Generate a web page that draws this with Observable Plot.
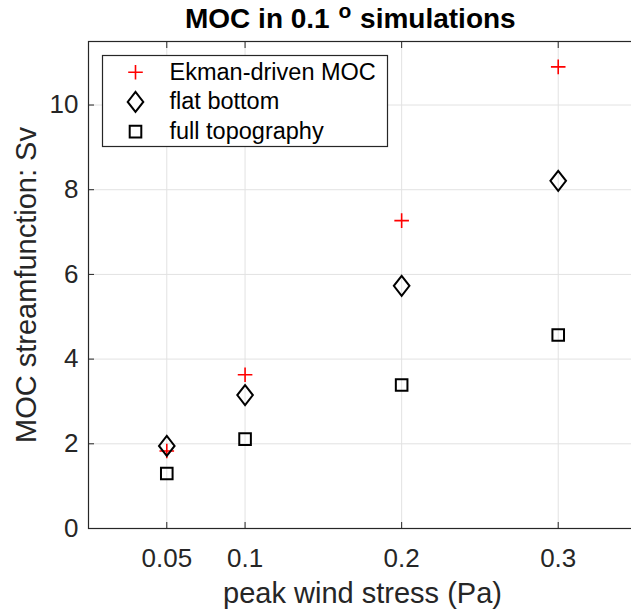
<!DOCTYPE html>
<html>
<head>
<meta charset="utf-8">
<script src="https://cdn.jsdelivr.net/npm/d3@7"></script>
<script src="https://cdn.jsdelivr.net/npm/@observablehq/plot@0.6"></script>
<style>
  html, body { margin: 0; padding: 0; background: #fff; overflow: hidden; }
  #wrap { position: relative; width: 631px; height: 615px; overflow: hidden; }
  #title {
    position: absolute; left: 185px; top: 1px; height: 36px;
    font: bold 28px/36px "Liberation Sans", Arial, sans-serif;
    white-space: nowrap; color: #000;
  }
  #title sup {
    font-size: 21px; line-height: 1; vertical-align: 0;
    position: relative; top: -10px; margin: 0 1px;
  }
  #chart { position: absolute; left: 0; top: 36px; }
</style>
</head>
<body>
<div id="wrap">
  <div id="title">MOC in 0.1 <sup>o</sup> simulations</div>
  <div id="chart"></div>
</div>
<script>
// Peak wind stress (Pa) for each run
const windStress = [0.05, 0.1, 0.2, 0.3];
// MOC strength (Sv) per configuration
const ekmanMOC = [1.83, 3.63, 7.27, 10.90];
const flatBottomMOC = [1.95, 3.15, 5.73, 8.21];
const fullTopographyMOC = [1.30, 2.11, 3.39, 4.57];

const seriesNames = ["Ekman-driven MOC", "flat bottom", "full topography"];
const xTicks = [0.05, 0.1, 0.2, 0.3];
const yTicks = [0, 2, 4, 6, 8, 10];
const xLabel = "peak wind stress (Pa)";
const yLabel = "MOC streamfunction: Sv";

const toRows = (vals) => windStress.map((x, i) => ({x, y: vals[i]}));

// Marker shapes: open plus, tall diamond, open square
const plusSymbol = {
  draw(ctx, size) {
    const r = Math.sqrt(size / Math.PI);
    ctx.moveTo(-r, 0); ctx.lineTo(r, 0);
    ctx.moveTo(0, -r); ctx.lineTo(0, r);
  }
};
const diamondSymbol = {
  draw(ctx, size) {
    const r = Math.sqrt(size / Math.PI), w = r * 0.78;
    ctx.moveTo(0, -r); ctx.lineTo(w, 0); ctx.lineTo(0, r); ctx.lineTo(-w, 0); ctx.closePath();
  }
};
const squareSymbol = {
  draw(ctx, size) {
    const r = Math.sqrt(size / Math.PI);
    ctx.rect(-r, -r, 2 * r, 2 * r);
  }
};

const series = [
  {name: seriesNames[0], rows: toRows(ekmanMOC), symbol: plusSymbol, r: 7.3, stroke: "#ff0000", sw: 1.6},
  {name: seriesNames[1], rows: toRows(flatBottomMOC), symbol: diamondSymbol, r: 10, stroke: "#000", sw: 2},
  {name: seriesNames[2], rows: toRows(fullTopographyMOC), symbol: squareSymbol, r: 5.8, stroke: "#000", sw: 2}
];

const gridColor = "#e2e2e2";
const axisColor = "#262626";

const legendMarks = series.flatMap((s, i) => [
  Plot.dot([s.name], {frameAnchor: "top-left", dx: 47, dy: 30.7 + i * 29.7,
    symbol: s.symbol, r: s.r, stroke: s.stroke, strokeWidth: s.sw}),
  Plot.text([s.name], {frameAnchor: "top-left", dx: 81, dy: 30.7 + i * 29.7, text: d => d,
    textAnchor: "start", lineAnchor: "middle", fontSize: 23.5, fill: "#000"})
]);

const chart = Plot.plot({
  width: 631,
  height: 579,
  marginTop: 5,
  marginBottom: 87,
  marginLeft: 88,
  marginRight: -5,
  style: {fontFamily: "'Liberation Sans', Arial, sans-serif", color: axisColor, background: "#fff"},
  x: {domain: [0, 0.35], label: null},
  y: {domain: [0, 11.5], label: null},
  marks: [
    Plot.gridX(xTicks, {stroke: gridColor, strokeOpacity: 1}),
    Plot.gridY(yTicks, {stroke: gridColor, strokeOpacity: 1}),
    Plot.axisX(xTicks, {anchor: "bottom", tickSize: -6, tickPadding: 26, fontSize: 26,
      tickFormat: d => String(d), label: null}),
    Plot.axisX(xTicks, {anchor: "top", tickSize: -6, tickFormat: () => "", label: null}),
    Plot.axisY(yTicks, {anchor: "left", tickSize: -6, tickPadding: 16, fontSize: 26,
      tickFormat: d => String(d), label: null}),
    Plot.frame({stroke: axisColor, strokeWidth: 1.2}),
    Plot.text([xLabel], {frameAnchor: "bottom", dy: 74, text: d => d, fontSize: 29,
      textAnchor: "middle", lineAnchor: "bottom", fill: axisColor}),
    Plot.text([yLabel], {frameAnchor: "left", dx: -53, text: d => d, fontSize: 29,
      rotate: -90, textAnchor: "middle", lineAnchor: "bottom", fill: axisColor}),
    ...series.map(s => Plot.dot(s.rows, {x: "x", y: "y", symbol: s.symbol, r: s.r,
      stroke: s.stroke, strokeWidth: s.sw})),
    Plot.frame({insetLeft: 14, insetTop: 14, insetRight: 249, insetBottom: 382,
      fill: "#fff", stroke: axisColor, strokeWidth: 1.2}),
    ...legendMarks
  ]
});
document.getElementById("chart").appendChild(chart);
</script>
</body>
</html>
